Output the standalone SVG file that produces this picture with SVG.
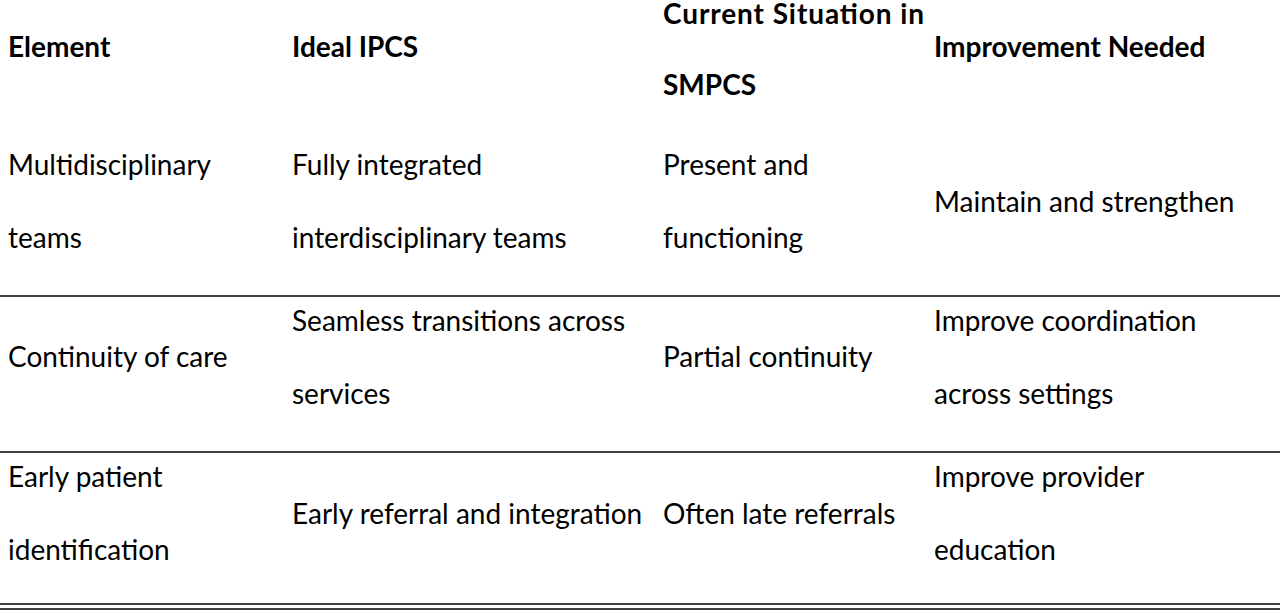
<svg xmlns="http://www.w3.org/2000/svg" width="1280" height="614" viewBox="0 0 1280 614">
<style>
text{font-family:Lato,"Open Sans",sans-serif;font-size:28px;fill:#000}
.h{font-weight:bold}
line{stroke:#000;stroke-width:1.3}
</style>
<rect width="1280" height="614" fill="#fff"/>
<g id="header">
<text class="h" x="8" y="57">Element</text>
<text class="h" x="292" y="57">Ideal IPCS</text>
<text class="h" x="663" y="24" textLength="261" lengthAdjust="spacing">Current Situation in</text>
<text class="h" x="663" y="95">SMPCS</text>
<text class="h" x="934" y="57">Improvement Needed</text>
</g>
<g id="row1">
<text x="8" y="175">Multidisciplinary</text>
<text x="8" y="248">teams</text>
<text x="292" y="175">Fully integrated</text>
<text x="292" y="248">interdisciplinary teams</text>
<text x="663" y="175">Present and</text>
<text x="663" y="248">functioning</text>
<text x="934" y="212">Maintain and strengthen</text>
</g>
<g id="row2">
<text x="8" y="367">Continuity of care</text>
<text x="292" y="331">Seamless transitions across</text>
<text x="292" y="404">services</text>
<text x="663" y="367">Partial continuity</text>
<text x="934" y="331">Improve coordination</text>
<text x="934" y="404">across settings</text>
</g>
<g id="row3">
<text x="8" y="487">Early patient</text>
<text x="8" y="560">identification</text>
<text x="292" y="524">Early referral and integration</text>
<text x="663" y="524">Often late referrals</text>
<text x="934" y="487">Improve provider</text>
<text x="934" y="560">education</text>
</g>
<g id="rules">
<line x1="0" y1="296" x2="1280" y2="296"/>
<line x1="0" y1="452" x2="1280" y2="452"/>
<line x1="0" y1="604" x2="1280" y2="604"/>
<line x1="0" y1="609" x2="1280" y2="609"/>
</g>
</svg>
